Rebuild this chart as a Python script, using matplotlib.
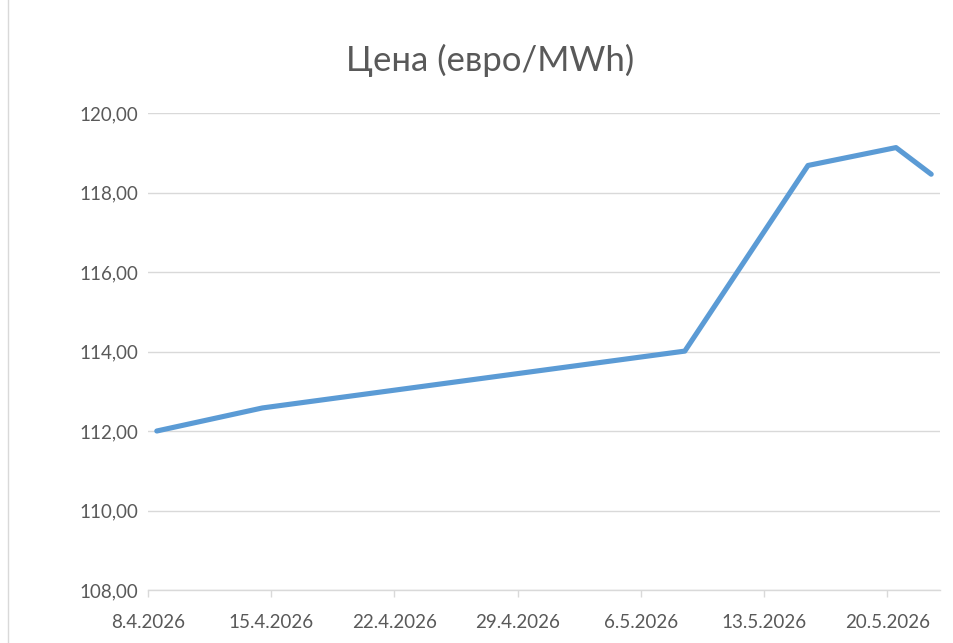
import matplotlib
matplotlib.use("Agg")
import matplotlib.pyplot as plt
import matplotlib.dates as mdates
from matplotlib.patches import Rectangle
import datetime as dt

plt.rcParams['font.family'] = ['Lato', 'DejaVu Sans']

# data
dates = ["8.4.2026", "14.4.2026", "8.5.2026", "15.5.2026", "20.5.2026", "22.5.2026"]
prices = [112.00, 112.58, 114.01, 118.68, 119.13, 118.46]
tick_dates = ["8.4.2026", "15.4.2026", "22.4.2026", "29.4.2026", "6.5.2026", "13.5.2026", "20.5.2026"]
y_ticks = [108, 110, 112, 114, 116, 118, 120]

def to_num(s):
    return mdates.date2num(dt.datetime.strptime(s, "%d.%m.%Y"))

# excel date axis puts points in the middle of each day
xs = [to_num(d) + 0.5 for d in dates]
xt = [to_num(d) for d in tick_dates]

fig = plt.figure(figsize=(9.54, 6.43), dpi=100)
ax = fig.add_axes([148 / 954, 1 - 590 / 643, (940 - 148) / 954, (590 - 113) / 643])

ax.plot(xs, prices, color="#5B9BD5", linewidth=3.7, solid_capstyle="round", solid_joinstyle="round", zorder=3)

ax.set_xlim(xt[0], to_num("22.5.2026") + 1)
ax.set_ylim(108, 120)
ax.set_yticks(y_ticks)
ax.set_yticklabels([f"{v:.2f}".replace(".", ",") for v in y_ticks])
ax.set_xticks(xt)
ax.set_xticklabels(tick_dates)

ax.grid(axis="y", color="#d9d9d9", linewidth=1.0)
ax.set_axisbelow(True)
for side in ["top", "right", "left"]:
    ax.spines[side].set_visible(False)
ax.spines["bottom"].set_color("#d9d9d9")
ax.spines["bottom"].set_linewidth(1.0)
ax.tick_params(axis="y", length=0, pad=7, labelsize=13.5, labelcolor="#595959")
ax.tick_params(axis="x", length=5, width=1.0, color="#d9d9d9", pad=12, labelsize=13.5, labelcolor="#595959")

fig.text(490 / 954, 1 - 60 / 643, "Цена (евро/MWh)", ha="center", va="center", fontsize=25, color="#595959")

fig.patches.append(Rectangle((8 / 954, -0.01), 1.0, 1.02, transform=fig.transFigure,
                             fill=False, edgecolor="#d9d9d9", linewidth=1.0))

fig.savefig("out.png", dpi=100)
